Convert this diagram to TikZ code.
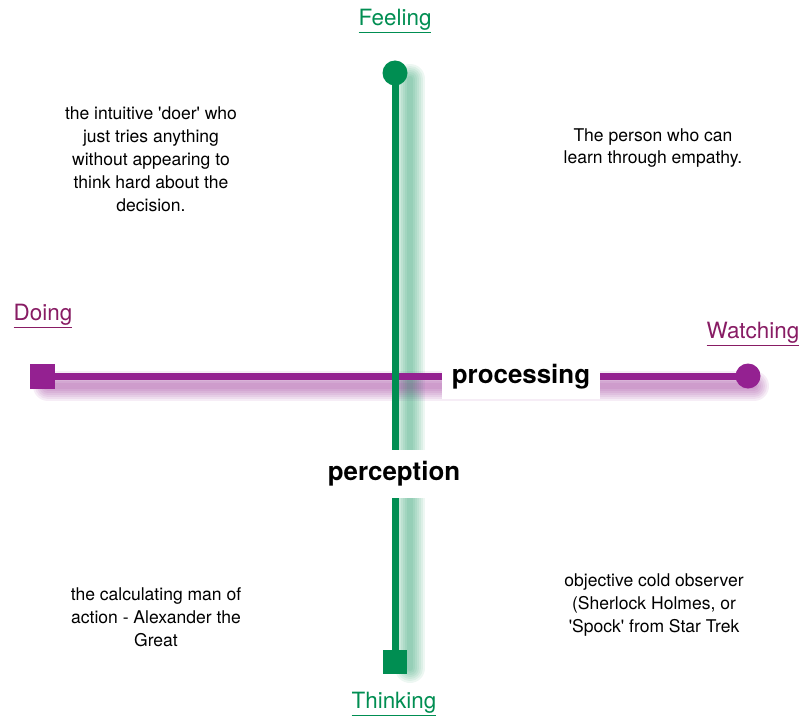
\documentclass[tikz,border=0pt]{standalone}
\usepackage{fontspec}
\setmainfont{TeX Gyre Heros}[Ligatures=TeXOff]
\usetikzlibrary{positioning}
\definecolor{feelGreen}{RGB}{0,142,82}
\definecolor{doPurple}{RGB}{148,33,145}
\definecolor{doText}{RGB}{136,28,100}
\tikzset{
  greenaxis/.style={feelGreen,line width=7bp},
  purpleaxis/.style={doPurple,line width=7bp},
  poletext/.style={font=\fontsize{22.5}{26}\selectfont,inner sep=0pt},
  axistext/.style={font=\fontsize{26}{30}\selectfont\bfseries,fill=white},
  quadtext/.style={font=\fontsize{17.6}{23}\selectfont,align=center,inner sep=0pt}
}
\begin{document}
\begin{tikzpicture}[x=1bp,y=-1bp]
  \useasboundingbox[fill=white] (0,0) rectangle (800,720);
  \coordinate (feelEnd) at (395,73);
  \coordinate (thinkEnd) at (395,662);
  \coordinate (doEnd) at (42,376);
  \coordinate (watchEnd) at (748,376);
  % shadows
  \foreach \w in {30,26,22,18,14,10,6}{
    \draw[doPurple,line width=\w bp,opacity=0.08,line cap=round]
      ([xshift=6bp,yshift=-10bp]doEnd) -- ([xshift=6bp,yshift=-10bp]watchEnd);
    \draw[feelGreen,line width=\w bp,opacity=0.07,line cap=round]
      ([xshift=15bp,yshift=-6bp]feelEnd) -- ([xshift=15bp,yshift=-6bp]thinkEnd);
  }
  % axes
  \draw[purpleaxis] (doEnd) -- (watchEnd);
  \draw[greenaxis] (feelEnd) -- (thinkEnd);
  \node[fill=doPurple,minimum size=25bp,inner sep=0pt] (doMark) at (doEnd) {};
  \node[circle,fill=doPurple,minimum size=25bp,inner sep=0pt] (watchMark) at (watchEnd) {};
  \node[circle,fill=feelGreen,minimum size=25bp,inner sep=0pt] (feelMark) at (feelEnd) {};
  \node[fill=feelGreen,minimum size=24bp,inner sep=0pt] (thinkMark) at (thinkEnd) {};
  % axis names
  \node[axistext,inner xsep=10bp,inner ysep=10bp] (processing) at (521,377) {processing};
  \node[axistext,inner xsep=4bp,inner ysep=12bp] (perception) at (394,474) {perception};
  % poles
  \node[poletext,feelGreen] (feeling) at (395,21) {\underline{Feeling}};
  \node[poletext,feelGreen] (thinking) at (394,704) {\underline{Thinking}};
  \node[poletext,doText] (doing) at (43,316) {\underline{Doing}};
  \node[poletext,doText] (watching) at (753,334) {\underline{Watching}};
  % quadrants
  \node[quadtext] (doerText) at (151,159) {the intuitive 'doer' who\\just tries anything\\without appearing to\\think hard about the\\decision.};
  \node[quadtext] (empathyText) at (653,148) {The person who can\\learn through empathy.};
  \node[quadtext] (actionText) at (156,617) {the calculating man of\\action - Alexander the\\Great};
  \node[quadtext] (observerText) at (654,605) {objective cold observer\\(Sherlock Holmes, or\\'Spock' from Star Trek};
\end{tikzpicture}
\end{document}
